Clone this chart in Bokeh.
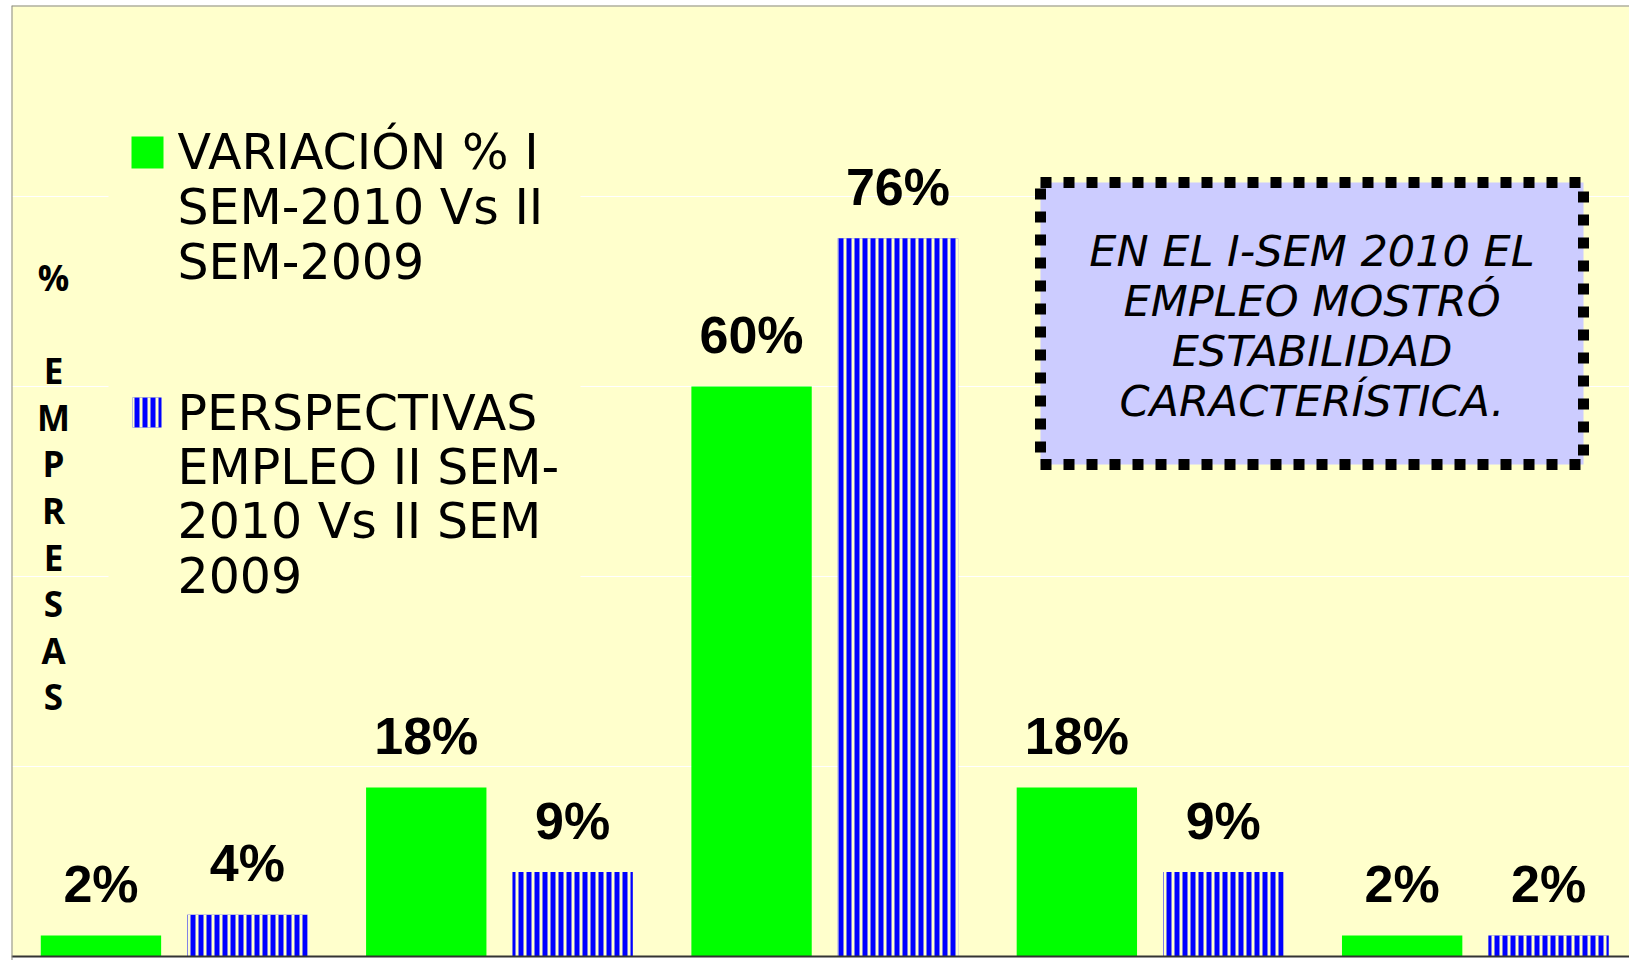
from bokeh.plotting import figure
from bokeh.models import Range1d, FixedTicker, BoxAnnotation, Label, Span, ColumnDataSource
from bokeh.core.properties import value
from bokeh.embed import file_html
from bokeh.resources import INLINE

# ---------------- data ----------------
category_index = [0, 1, 2, 3, 4]          # category names are cut off in the source picture
series_names = [
    ["VARIACIÓN % I", "SEM-2010 Vs II", "SEM-2009"],
    ["PERSPECTIVAS", "EMPLEO II SEM-", "2010 Vs II SEM", "2009"],
]
green_pct = [2.2, 17.8, 60.0, 17.8, 2.2]   # VARIACIÓN % I SEM-2010 Vs II SEM-2009
blue_pct = [4.4, 8.9, 75.6, 8.9, 2.2]      # PERSPECTIVAS EMPLEO II SEM-2010 Vs II SEM 2009
y_title = "% EMPRESAS"
note_lines = ["EN EL I-SEM 2010 EL", "EMPLEO MOSTRÓ", "ESTABILIDAD", "CARACTERÍSTICA."]
grid_ticks = [20, 40, 60, 80]
cat_bounds = [1, 2, 3, 4]

# ---------------- layout ----------------
W, H = 1629, 960
FRAME_LEFT = 11
FRAME_TOP = 5
AXIS_Y = 956            # canvas y of value 0
PX_PER_CAT = 325.3
PX_PER_PCT = 9.5
X_END = (W - FRAME_LEFT) / PX_PER_CAT
Y_END = (AXIS_Y - FRAME_TOP) / PX_PER_PCT
Y_START = -(H - AXIS_Y) / PX_PER_PCT
BASE_FIX = 0.37         # renderer places 'alphabetic' text a bit low; compensate


def dx(sx):
    return (sx - FRAME_LEFT) / PX_PER_CAT


def dy(sy):
    return (AXIS_Y - sy) / PX_PER_PCT


def text_y(baseline, size):
    return dy(baseline - BASE_FIX * size)


BG = "#FFFFCC"
GREEN = "#00FF00"
BLUE = "#0000FF"

p = figure(width=W, height=H, x_range=Range1d(0, X_END), y_range=Range1d(Y_START, Y_END),
           output_backend="svg", toolbar_location=None, y_axis_location=None,
           x_axis_location=None,
           min_border_left=FRAME_LEFT, min_border_right=0, min_border_top=FRAME_TOP,
           min_border_bottom=0, background_fill_color=BG, border_fill_color="white")
p.outline_line_color = None

# grid
p.xgrid.visible = False
p.ygrid.ticker = FixedTicker(ticks=grid_ticks)
p.ygrid.grid_line_color = "white"
p.ygrid.grid_line_width = 1

# area below the category axis is outside the plot area
p.add_layout(BoxAnnotation(left=0, right=X_END, top=0, bottom=Y_START,
                           fill_color="white", fill_alpha=1, line_color=None))
# category tick marks below the axis
p.segment(x0=cat_bounds, x1=cat_bounds, y0=[0] * len(cat_bounds),
          y1=[Y_START] * len(cat_bounds), line_color="#333333", line_width=1)
# axis line
p.add_layout(Span(location=0, dimension="width", line_color="#333333", line_width=2))

# frame borders (left / top only visible)
p.add_layout(Span(location=0, dimension="height", line_color="#888888", line_width=2))
p.add_layout(Span(location=Y_END, dimension="width", line_color="#888888", line_width=2))

# bars
OFF_G, OFF_B, BW = 0.275, 0.725, 0.37
src_g = ColumnDataSource(dict(x=[i + OFF_G for i in category_index], top=green_pct,
                              lab=[f"{round(v)}%" for v in green_pct]))
src_b = ColumnDataSource(dict(x=[i + OFF_B for i in category_index], top=blue_pct,
                              lab=[f"{round(v)}%" for v in blue_pct]))
p.vbar(x="x", top="top", bottom=0, width=BW, source=src_g, fill_color=GREEN, line_color=None)
p.vbar(x="x", top="top", bottom=0, width=BW, source=src_b, fill_color=BLUE, line_color=None,
       hatch_pattern="vertical_line", hatch_color=BG, hatch_weight=3, hatch_scale=8)

LAB_SIZE = 52
for src in (src_g, src_b):
    p.text(x="x", y="top", text="lab", source=src, y_offset=-(32 + BASE_FIX * LAB_SIZE),
           text_align="center", text_baseline="alphabetic",
           text_font=value("Liberation Sans"), text_font_style="bold",
           text_font_size=f"{LAB_SIZE}px", text_color="black")

# legend background (hides grid lines)
p.add_layout(BoxAnnotation(left=dx(108), right=dx(580), top=dy(110), bottom=dy(615),
                           fill_color=BG, fill_alpha=1, line_color=None))
# legend swatches
p.add_layout(BoxAnnotation(left=dx(131), right=dx(163), top=dy(136), bottom=dy(168),
                           fill_color=GREEN, fill_alpha=1, line_color=None))
p.add_layout(BoxAnnotation(left=dx(132), right=dx(161), top=dy(397), bottom=dy(427),
                           fill_color=BLUE, fill_alpha=1, line_color=None,
                           hatch_pattern="vertical_line", hatch_color=BG, hatch_weight=3,
                           hatch_scale=8))
LEG_SIZE = 49
legend_baselines = [[170, 225, 280], [431, 485, 539, 593]]
for lines, bases in zip(series_names, legend_baselines):
    for t, b in zip(lines, bases):
        p.add_layout(Label(x=dx(177), y=text_y(b, LEG_SIZE), text=t, text_align="left",
                           text_baseline="alphabetic", text_font="DejaVu Sans",
                           text_font_size=f"{LEG_SIZE}px", text_color="black"))

# stacked y-axis title
YT_SIZE = 35
yb = 290
for ch in y_title:
    if ch != " ":
        p.add_layout(Label(x=dx(53), y=text_y(yb, YT_SIZE), text=ch, text_align="center",
                           text_baseline="alphabetic", text_font="Open Sans",
                           text_font_style="bold", text_font_size=f"{YT_SIZE}px",
                           text_color="black"))
    yb += 46.6

# note box
p.add_layout(BoxAnnotation(left=dx(1040), right=dx(1583), top=dy(182), bottom=dy(464),
                           fill_color="#CCCCFF", fill_alpha=1, line_color="black",
                           line_alpha=1, line_width=11, line_dash="11 12"))
NOTE_SIZE = 43
for i, t in enumerate(note_lines):
    p.add_layout(Label(x=dx(1311.5), y=text_y(266 + 50 * i, NOTE_SIZE), text=t,
                       text_align="center", text_baseline="alphabetic",
                       text_font="DejaVu Sans", text_font_style="italic",
                       text_font_size=f"{NOTE_SIZE}px", text_color="black"))

open("out.html", "w").write(file_html(p, INLINE))
